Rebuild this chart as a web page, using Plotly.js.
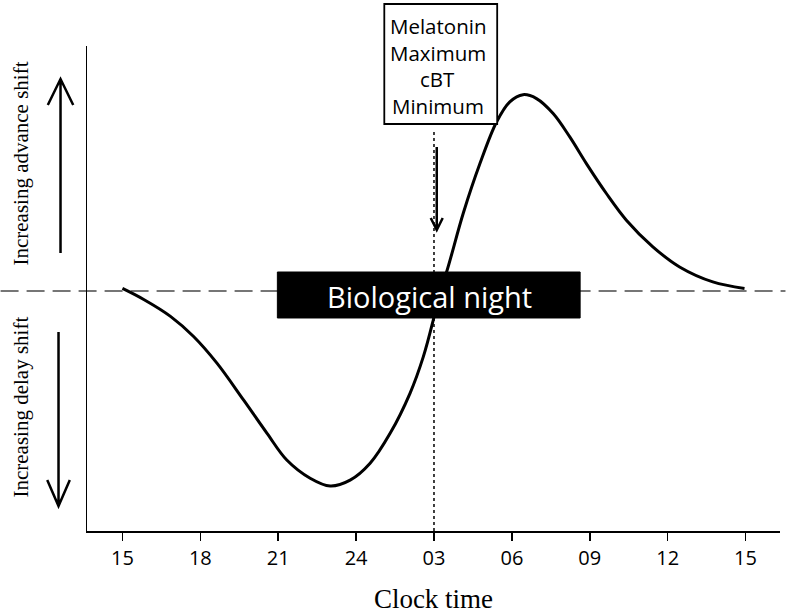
<!DOCTYPE html>
<html>
<head>
<meta charset="utf-8">
<script src="https://cdn.plot.ly/plotly-3.0.1.min.js"></script>
<style>html,body{margin:0;padding:0;background:#fff;}#chart{width:786px;height:614px;}</style>
</head>
<body>
<div id="chart"></div>
<script>
// Hours elapsed since 15:00 and relative phase shift (advance > 0, delay < 0)
const hoursSince15 = [0, 0.82, 1.85, 2.74, 3.64, 4.67, 5.57, 6.33, 7.23, 8.0, 8.77, 9.54, 10.31, 11.08, 11.59, 11.97, 12.23, 12.49, 13.13, 13.77, 14.41, 14.92, 15.43, 15.95, 16.59, 17.23, 17.87, 18.64, 19.41, 20.43, 21.46, 22.74, 23.96];
const phaseShift   = [0.04, -0.13, -0.39, -0.70, -1.11, -1.68, -2.19, -2.60, -2.88, -3.0, -2.91, -2.65, -2.19, -1.57, -1.01, -0.45, 0, 0.30, 1.20, 1.96, 2.60, 2.91, 3.02, 2.96, 2.73, 2.37, 1.96, 1.50, 1.09, 0.68, 0.37, 0.14, 0.04];
const tickHours  = [0, 3, 6, 9, 12, 15, 18, 21, 24];
const tickLabels = ["15", "18", "21", "24", "03", "06", "09", "12", "15"];
const markerHour = 12; // 03:00 – melatonin maximum / cBT minimum
const markerLines = ["Melatonin", "Maximum", "cBT", "Minimum"];

const SANS = 'Open Sans';
const SERIF = 'Liberation Serif';

const trace = {
  x: hoursSince15, y: phaseShift, type: 'scatter', mode: 'lines',
  line: {color: '#000', width: 3, shape: 'spline', smoothing: 1},
  hoverinfo: 'skip'
};

const markerLineY = [1.0412, 0.9862, 0.9313, 0.8763];
const annotations = markerLines.map((t, i) => ({
  text: t, xref: 'paper', yref: 'paper', x: 0.506, y: markerLineY[i],
  xanchor: 'center', yanchor: 'middle', showarrow: false,
  font: {family: SANS, size: 20.5, color: '#000'}
}));
annotations.push({
  text: 'Biological night', xref: 'paper', yref: 'paper', x: 0.4939, y: 0.4825,
  xanchor: 'center', yanchor: 'middle', showarrow: false,
  font: {family: SANS, size: 29, color: '#fff'}
});
annotations.push({
  text: 'Increasing advance shift', xref: 'paper', yref: 'paper',
  x: (20 - 86.5) / 693.5, y: (531 - 164) / 485, textangle: -90,
  xanchor: 'center', yanchor: 'middle', showarrow: false,
  font: {family: SERIF, size: 21, color: '#000'}
});
annotations.push({
  text: 'Increasing delay shift', xref: 'paper', yref: 'paper',
  x: (20 - 86.5) / 693.5, y: (531 - 407) / 485, textangle: -90,
  xanchor: 'center', yanchor: 'middle', showarrow: false,
  font: {family: SERIF, size: 21, color: '#000'}
});

const shapes = [
  // zero (no shift) line
  {type: 'line', xref: 'paper', yref: 'y', x0: -0.1247, x1: 1.0079, y0: 0, y1: 0,
   line: {color: '#4a4a4a', width: 1.5, dash: '18px,8px'}, layer: 'below'},
  // marker time dotted line
  {type: 'line', xref: 'x', yref: 'paper', x0: markerHour, x1: markerHour, y0: 0, y1: 0.8268,
   line: {color: '#000', width: 1.5, dash: 'dot'}, layer: 'below'},
  // Biological night box
  {type: 'rect', xref: 'paper', yref: 'paper', x0: 0.2747, x1: 0.7116, y0: 0.4392, y1: 0.534,
   fillcolor: '#000', line: {color: '#000', width: 1}, layer: 'above'},
  // Melatonin box
  {type: 'rect', xref: 'paper', yref: 'paper', x0: 0.429, x1: 0.5919, y0: 0.8392, y1: 1.0866,
   fillcolor: '#fff', line: {color: '#000', width: 1.8}, layer: 'above'},
  // up arrow (advance)
  {type: 'path', xref: 'paper', yref: 'paper',
   path: 'M -0.03821,0.5732 L -0.03821,0.9320 M -0.05653,0.8784 L -0.03821,0.9320 L -0.0199,0.8784',
   line: {color: '#000', width: 2.5}},
  // down arrow (delay)
  {type: 'path', xref: 'paper', yref: 'paper',
   path: 'M -0.0411,0.4103 L -0.0411,0.05155 M -0.05739,0.1052 L -0.0411,0.05155 L -0.0248,0.1052',
   line: {color: '#000', width: 2.5}},
  // marker arrow
  {type: 'path', xref: 'paper', yref: 'paper',
   path: 'M 0.5047,0.7918 L 0.5047,0.6206 M 0.4960,0.6454 L 0.5047,0.6206 L 0.5133,0.6454',
   line: {color: '#000', width: 2.5}}
];

const layout = {
  width: 786, height: 614,
  margin: {l: 86.5, r: 5.5, t: 46, b: 83, pad: 0},
  paper_bgcolor: '#fff', plot_bgcolor: '#fff',
  showlegend: false,
  xaxis: {
    range: [-1.365, 25.327], tickmode: 'array', tickvals: tickHours, ticktext: tickLabels,
    ticks: 'outside', ticklen: 8, tickwidth: 1.5, tickcolor: '#000',
    showline: true, linecolor: '#000', linewidth: 1.5, showgrid: false, zeroline: false,
    tickfont: {family: SANS, size: 20, color: '#000'},
    title: {text: 'Clock time', font: {family: SERIF, size: 27, color: '#000'}, standoff: 19},
    fixedrange: true
  },
  yaxis: {
    range: [-3.692, 3.769], showticklabels: false, ticks: '',
    showline: true, linecolor: '#000', linewidth: 1.5, showgrid: false, zeroline: false,
    fixedrange: true
  },
  shapes: shapes,
  annotations: annotations
};

Plotly.newPlot('chart', [trace], layout, {displayModeBar: false, staticPlot: true});
</script>
</body>
</html>
